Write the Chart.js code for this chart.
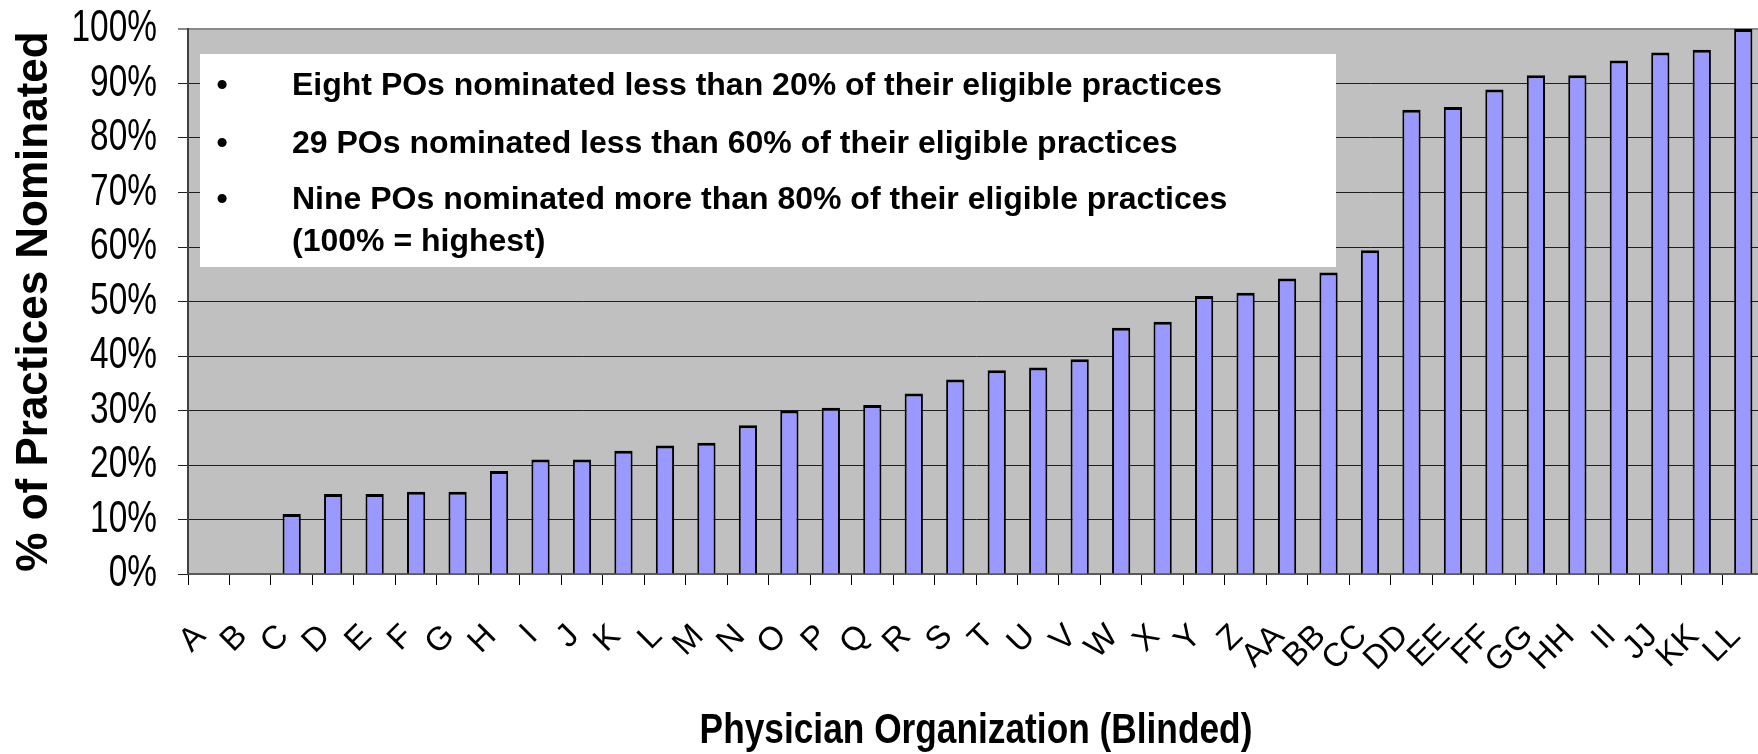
<!DOCTYPE html>
<html>
<head>
<meta charset="utf-8">
<script src="https://cdn.jsdelivr.net/npm/chart.js@4.4.1/dist/chart.umd.min.js"></script>
<style>
  html, body { margin: 0; padding: 0; background: #fff; overflow: hidden; }
  #wrap { position: relative; width: 1764px; height: 754px; }
</style>
</head>
<body>
<div id="wrap"><canvas id="poChart"></canvas></div>
<script>
// physician organizations (blinded) and share of eligible practices nominated, in %
const poLabels = ['A','B','C','D','E','F','G','H','I','J','K','L','M','N','O','P','Q','R','S',
  'T','U','V','W','X','Y','Z','AA','BB','CC','DD','EE','FF','GG','HH','II','JJ','KK','LL'];
const pctNominated = [0, 0, 11.0, 14.7, 14.7, 15.1, 15.1, 18.9, 21.0, 21.0, 22.6, 23.6, 24.1, 27.3,
  30.0, 30.5, 31.0, 33.1, 35.7, 37.4, 37.9, 39.4, 45.2, 46.3, 51.0, 51.6, 54.2, 55.3, 59.4,
  85.2, 85.7, 88.9, 91.5, 91.5, 94.2, 95.7, 96.2, 100];
const yTicks = [0, 10, 20, 30, 40, 50, 60, 70, 80, 90, 100];
const xTitle = 'Physician Organization (Blinded)';
const yTitle = '% of Practices Nominated';
const noteLines = [
  'Eight POs nominated less than 20% of their eligible practices',
  '29 POs nominated less than 60% of their eligible practices',
  'Nine POs nominated more than 80% of their eligible practices',
  '(100% = highest)'
];
const noteBullets = [true, true, true, false];

const sans = '"Liberation Sans", Arial, sans-serif';

// grey plot area behind the grid
const plotBackdrop = {
  id: 'plotBackdrop',
  beforeDraw(chart) {
    const { ctx, chartArea: a } = chart;
    ctx.save();
    ctx.fillStyle = '#c0c0c0';
    ctx.fillRect(a.left, a.top, a.right - a.left, a.bottom - a.top);
    ctx.restore();
  }
};

// y tick labels and x title are condensed in the original, so squeeze them a bit
const squeezedText = {
  id: 'squeezedText',
  afterDraw(chart) {
    const { ctx, chartArea: a } = chart;
    const ys = chart.scales.y;
    ctx.save();
    ctx.fillStyle = '#000';
    ctx.textBaseline = 'middle';
    ctx.textAlign = 'right';
    ctx.font = '44px ' + sans;
    ys.ticks.forEach(t => {
      ctx.save();
      ctx.translate(ys.right - 31, ys.getPixelForValue(t.value));
      ctx.scale(0.76, 1);
      ctx.fillText(t.value + '%', 0, 0);
      ctx.restore();
    });
    ctx.textAlign = 'center';
    ctx.font = 'bold 42px ' + sans;
    ctx.translate((a.left + a.right) / 2, 731);
    ctx.scale(0.84, 1);
    ctx.fillText(xTitle, 0, 0);
    ctx.restore();
  }
};

// white text box with the three bullet points
const noteBox = {
  id: 'noteBox',
  afterDraw(chart) {
    const { ctx, chartArea: a } = chart;
    const rows = [57, 115, 171, 213];
    ctx.save();
    ctx.fillStyle = '#fff';
    ctx.fillRect(a.left + 12, a.top + 25, 1136, 213);
    ctx.fillStyle = '#000';
    ctx.font = 'bold 32px ' + sans;
    ctx.textBaseline = 'middle';
    noteLines.forEach((line, i) => {
      if (noteBullets[i]) {
        ctx.textAlign = 'center';
        ctx.fillText('\u2022', a.left + 34, a.top + rows[i]);
      }
      ctx.textAlign = 'left';
      ctx.fillText(line, a.left + 104, a.top + rows[i]);
    });
    ctx.restore();
  }
};

const ctx = document.getElementById('poChart').getContext('2d');
new Chart(ctx, {
  type: 'bar',
  data: {
    labels: poLabels,
    datasets: [{
      data: pctNominated,
      backgroundColor: '#9999ff',
      borderColor: '#000',
      borderWidth: { top: 3, left: 2, right: 2, bottom: 0 },
      barPercentage: 0.44,
      categoryPercentage: 1
    }]
  },
  plugins: [plotBackdrop, squeezedText, noteBox],
  options: {
    responsive: true,
    maintainAspectRatio: false,
    animation: false,
    layout: { padding: { top: 29, left: 0, right: 0, bottom: 0 } },
    plugins: {
      legend: { display: false },
      tooltip: { enabled: false }
    },
    scales: {
      x: {
        afterFit(scale) {
          scale.height = 180;
          scale.paddingLeft = 0;
          scale.paddingRight = 0;
        },
        grid: {
          offset: true,
          drawOnChartArea: false,
          drawTicks: true,
          tickLength: 11,
          color: '#000'
        },
        border: { display: true, color: '#5a5a5a', width: 2 },
        ticks: {
          autoSkip: false,
          minRotation: 45,
          maxRotation: 45,
          padding: 32,
          labelOffset: -8,
          color: '#000',
          font: { family: sans, size: 33 }
        }
      },
      y: {
        min: 0,
        max: 100,
        afterFit(scale) { scale.width = 188; },
        afterBuildTicks(scale) { scale.ticks = yTicks.map(v => ({ value: v })); },
        grid: {
          color: c => (c.tick && c.tick.value === 100 ? '#8a8a8a' : '#1e1e1e'),
          lineWidth: c => (c.tick && c.tick.value === 100 ? 2 : 1),
          tickLength: 10
        },
        border: { display: true, color: '#404040', width: 2 },
        ticks: { display: false, autoSkip: false },
        title: {
          display: true,
          text: yTitle,
          color: '#000',
          font: { family: sans, size: 44, weight: 'bold', lineHeight: 1.2 },
          padding: { top: 8, bottom: 0 }
        }
      }
    }
  }
});
</script>
</body>
</html>
